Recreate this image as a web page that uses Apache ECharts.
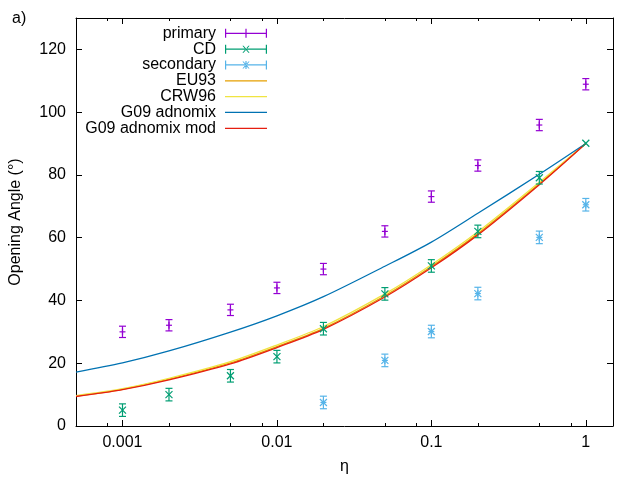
<!DOCTYPE html>
<html>
<head>
  <meta charset="utf-8">
</head>
<body style="margin: 0">
  <div id="container" style="width: 640px; height: 480px"></div>
  <script src="https://cdn.jsdelivr.net/npm/echarts@6/dist/echarts.min.js"></script>
  <script>
// measured points
const eta = [0.001, 0.002, 0.005, 0.01, 0.02, 0.05, 0.1, 0.2, 0.5, 1];
const primary = [30, 32.1, 37, 44, 50, 62, 73.1, 83, 95.9, 108.9];
const primaryErr = [1.8, 1.8, 1.8, 1.8, 1.8, 1.8, 1.8, 1.8, 1.8, 1.8];
const cd = [5.05, 10, 16, 22.1, 31, 42.1, 51, 62, 79.1, 90.1];
const cdErr = [2, 2, 2, 2, 2, 2, 2, 2, 2, 0];
const secondaryEta = [0.02, 0.05, 0.1, 0.2, 0.5, 1];
const secondary = [7.5, 20.9, 30.1, 42.2, 60.1, 70.5];
const secondaryErr = [2, 2, 2, 2, 2, 2];

// model curves
const modelEta = [0.0005, 0.001, 0.002, 0.005, 0.01, 0.02, 0.05, 0.1, 0.2, 0.5, 1];
const eu93 = [9.5, 11.7, 14.9, 20.1, 25.3, 31.1, 41.5, 50.8, 61.3, 77.2, 90];
const crw96 = [9.7, 11.9, 15.2, 20.5, 25.8, 31.7, 42.1, 51.4, 61.9, 77.7, 90];
const g09 = [17.2, 20.1, 23.9, 29.9, 35.1, 41.2, 50.9, 58.6, 67.8, 80.2, 90];
const g09mod = [9.4, 11.6, 14.7, 19.8, 25.0, 30.8, 41.1, 50.4, 60.9, 76.9, 90];

// ticks
const xMajor = [0.001, 0.01, 0.1, 1];
const xMajorLabels = ['0.001', '0.01', '0.1', '1'];
const xMinor = [0.0008, 0.002, 0.005, 0.008, 0.02, 0.05, 0.08, 0.2, 0.5, 0.8];
const yTicks = [0, 20, 40, 60, 80, 100, 120];

const FONT = 'Liberation Sans';
const FS = 16;

const myChart = echarts.init(document.getElementById('container'), null, { renderer: 'canvas' });

function errorBars(marker, color) {
  return function (params, api) {
    const x = api.value(0), y = api.value(1), e = api.value(2);
    const c = api.coord([x, y]);
    const style = { stroke: color, lineWidth: 1.2, fill: null };
    const seg = (x1, y1, x2, y2) => ({ type: 'line', shape: { x1, y1, x2, y2 }, style });
    const parts = [];
    if (e > 0) {
      const lo = api.coord([x, y - e])[1], hi = api.coord([x, y + e])[1];
      parts.push(seg(c[0], lo, c[0], hi), seg(c[0] - 3.5, lo, c[0] + 3.5, lo), seg(c[0] - 3.5, hi, c[0] + 3.5, hi));
    }
    const s = 3.5;
    if (marker === 'plus' || marker === 'star') {
      parts.push(seg(c[0] - 3, c[1], c[0] + 3, c[1]), seg(c[0], c[1] - s, c[0], c[1] + s));
    }
    if (marker === 'cross' || marker === 'star') {
      parts.push(seg(c[0] - s, c[1] - s, c[0] + s, c[1] + s), seg(c[0] - s, c[1] + s, c[0] + s, c[1] - s));
    }
    return { type: 'group', children: parts };
  };
}

function pointSeries(name, xs, ys, errs, marker, color) {
  return {
    name: name,
    type: 'custom',
    color: color,
    renderItem: errorBars(marker, color),
    encode: { x: 0, y: 1 },
    data: xs.map((x, i) => [x, ys[i], errs[i]]),
    z: 3
  };
}

function curveSeries(name, ys, color) {
  return {
    name: name,
    type: 'line',
    color: color,
    smooth: 0.3,
    showSymbol: false,
    lineStyle: { width: 1.3, color: color },
    data: modelEta.map((x, i) => [x, ys[i]]),
    z: 2
  };
}

const barIcon = 'M0,0H1.2V9H0Z M40.8,0H42V9H40.8Z M0,3.9H42V5.1H0Z';
const crossIcon = ' M17.4,1H18.6L24.6,8H23.4Z M24.6,1H23.4L17.4,8H18.6Z';
const lineIcon = 'path://M0,3.9H42V5.1H0Z';
const legendItems = [
  { name: 'primary', icon: 'path://' + barIcon + ' M20.4,0H21.6V9H20.4Z' },
  { name: 'CD', icon: 'path://' + barIcon + crossIcon },
  { name: 'secondary', icon: 'path://' + barIcon + crossIcon + ' M20.4,0.5H21.6V8.5H20.4Z' },
  { name: 'EU93', icon: lineIcon },
  { name: 'CRW96', icon: lineIcon },
  { name: 'G09 adnomix', icon: lineIcon },
  { name: 'G09 adnomix mod', icon: lineIcon }
];

function xLabel(v) {
  const i = xMajor.findIndex(t => Math.abs(Math.log10(t) - Math.log10(v)) < 1e-6);
  return i >= 0 ? xMajorLabels[i] : '';
}

const xBase = { type: 'log', logBase: 10, min: 0.0005, max: 1.5, gridIndex: 0, splitLine: { show: false } };
const lineStyle = { color: '#000', width: 1 };

const option = {
  animation: false,
  backgroundColor: '#fff',
  textStyle: { fontFamily: FONT },
  grid: { left: 74, right: 27, top: 18, bottom: 51, containLabel: false },
  graphic: [
    { type: 'text', left: 12, top: 11, style: { text: 'a)', font: FS + 'px ' + FONT, fill: '#000' } }
  ],
  legend: legendItems.map((item, i) => ({
    data: [item],
    orient: 'vertical',
    align: 'right',
    right: 373,
    top: 33.3 + i * 15.83 - 9,
    padding: 0,
    itemWidth: 42,
    itemHeight: 9,
    selectedMode: false,
    textStyle: { fontSize: FS, fontFamily: FONT, color: '#000', lineHeight: 18, padding: [0, 4, 0, 0] }
  })),
  xAxis: [
    Object.assign({}, xBase, {
      position: 'bottom',
      name: 'η',
      nameLocation: 'middle',
      nameGap: 33,
      nameTextStyle: { fontSize: FS, fontFamily: FONT, color: '#000' },
      axisLine: { show: true, lineStyle: lineStyle },
      axisTick: { show: true, inside: true, length: 6, lineStyle: lineStyle, customValues: xMajor },
      axisLabel: { show: true, margin: 9, fontSize: FS, fontFamily: FONT, color: '#000', customValues: xMajor, formatter: xLabel }
    }),
    Object.assign({}, xBase, {
      position: 'bottom',
      axisLine: { show: false },
      axisTick: { show: true, inside: true, length: 3, lineStyle: lineStyle, customValues: xMinor },
      axisLabel: { show: false }
    }),
    Object.assign({}, xBase, {
      position: 'top',
      axisLine: { show: true, lineStyle: lineStyle },
      axisTick: { show: true, inside: true, length: 6, lineStyle: lineStyle, customValues: xMajor },
      axisLabel: { show: false }
    }),
    Object.assign({}, xBase, {
      position: 'top',
      axisLine: { show: false },
      axisTick: { show: true, inside: true, length: 3, lineStyle: lineStyle, customValues: xMinor },
      axisLabel: { show: false }
    })
  ],
  yAxis: [
    {
      type: 'value',
      position: 'left',
      min: 0,
      max: 130,
      name: 'Opening Angle (°)',
      nameLocation: 'middle',
      nameGap: 52,
      nameTextStyle: { fontSize: FS, fontFamily: FONT, color: '#000' },
      splitLine: { show: false },
      axisLine: { show: true, lineStyle: lineStyle },
      axisTick: { show: true, inside: true, length: 6, lineStyle: lineStyle, customValues: yTicks },
      axisLabel: { margin: 10, fontSize: FS, fontFamily: FONT, color: '#000', customValues: yTicks }
    },
    {
      type: 'value',
      position: 'right',
      min: 0,
      max: 130,
      splitLine: { show: false },
      axisLine: { show: true, lineStyle: lineStyle },
      axisTick: { show: true, inside: true, length: 6, lineStyle: lineStyle, customValues: yTicks },
      axisLabel: { show: false }
    }
  ],
  series: [
    pointSeries('primary', eta, primary, primaryErr, 'plus', '#9400d3'),
    pointSeries('CD', eta, cd, cdErr, 'cross', '#009e73'),
    pointSeries('secondary', secondaryEta, secondary, secondaryErr, 'star', '#56b4e9'),
    curveSeries('EU93', eu93, '#e69f00'),
    curveSeries('CRW96', crw96, '#f0e442'),
    curveSeries('G09 adnomix', g09, '#0072b2'),
    curveSeries('G09 adnomix mod', g09mod, '#e51e10')
  ]
};

myChart.setOption(option);
window.addEventListener('resize', myChart.resize);
  </script>
</body>
</html>
